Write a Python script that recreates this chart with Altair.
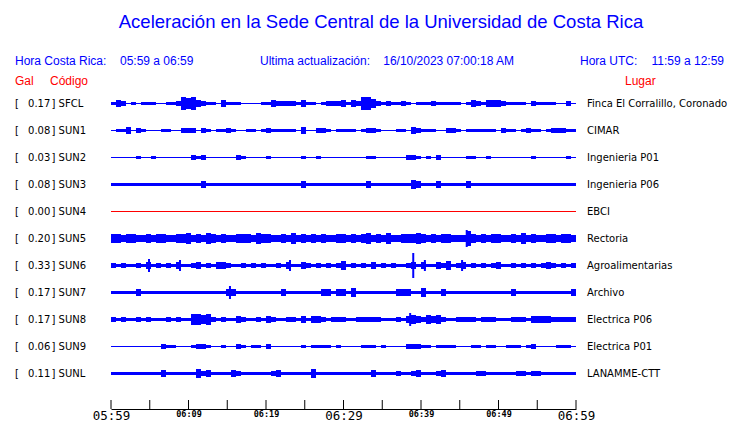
import altair as alt
import pandas as pd

# ---------------- data ----------------
CODES = ["SFCL", "SUN1", "SUN2", "SUN3", "SUN4", "SUN5", "SUN6", "SUN7", "SUN8", "SUN9", "SUNL"]
GAL = ["0.17", "0.08", "0.03", "0.08", "0.00", "0.20", "0.33", "0.17", "0.17", "0.06", "0.11"]
PLACES = ["Finca El Corralillo, Coronado", "CIMAR", "Ingenieria P01", "Ingenieria P06", "EBCI",
          "Rectoria", "Agroalimentarias", "Archivo", "Electrica P06", "Electrica P01", "LANAMME-CTT"]

# envelope half-heights (hex digit per ~39 s slot, 93 slots over the hour)
AMP_SFCL = "1320101110" "0112656321" "1031110000" "1132222131" "1012223132" "6642121121" "0111211111" "0132133321" "1110211110" "020"
AMP_SUN1 = "0113021000" "1100222021" "0112100110" "1211111030" "0221011110" "1221000110" "3211100221" "0111111021" "1012110122" "211"
AMP_SUN2 = "0000010010" "0000002120" "0000021000" "0100000010" "0100000000" "0110000002" "2101020000" "0110010000" "0000100000" "010"
AMP_SUN3 = "0000000000" "0000000030" "0000000000" "0000000030" "0000000000" "0300000000" "4300030000" "0300000000" "0000000000" "000"
AMP_SUN4 = "0000000000" "0000000000" "0000000000" "0000000000" "0000000000" "0000000000" "0000000000" "0000000000" "0000000000" "000"
AMP_SUN5 = "4434433434" "4334453435" "4343344435" "4433435343" "4343344343" "4534353344" "4543434433" "3743434433" "4353433443" "443"
AMP_SUN6 = "2121121312" "1213112312" "1332112121" "2112131132" "1212124121" "2131212112" "3131132412" "3121212311" "2121212321" "212"
AMP_SUN7 = "0000030000" "0000000000" "0003300000" "0000300000" "0033033040" "0000000333" "0040003000" "0000000000" "3000000000" "003"
AMP_SUN8 = "2121121211" "1212115545" "2121132112" "1321122131" "3321222112" "2222111213" "4324342112" "2221222111" "2221333322" "222"
AMP_SUN9 = "0000000000" "2110001221" "0010021011" "0200000010" "1111010000" "1110100002" "2211011110" "0011011001" "1101200001" "110"
AMP_SUNL = "0000000000" "3000000423" "0000320000" "0023000000" "4000000000" "0030000200" "2300023000" "0002200000" "0220220000" "000"
AMPS = [AMP_SFCL, AMP_SUN1, AMP_SUN2, AMP_SUN3, AMP_SUN4, AMP_SUN5,
        AMP_SUN6, AMP_SUN7, AMP_SUN8, AMP_SUN9, AMP_SUNL]

# narrow isolated spikes: station, minute after 05:59, half-height
SPIKE_CODE = ["SUN6", "SUN6", "SUN6", "SUN6", "SUN6", "SUN6", "SUN7", "SUN5", "SUN8", "SUN3"]
SPIKE_MIN = [4.9, 8.9, 23.1, 39.0, 40.5, 45.3, 15.35, 45.9, 38.6, 39.2]
SPIKE_AMP = [6, 5, 5, 12, 5, 5, 6, 8, 6, 4]

TIME_RANGE = [0, 60]
TICK_MIN = [0, 5, 10, 15, 20, 25, 30, 35, 40, 45, 50, 55, 60]
LABEL_MIN = [0, 10, 20, 30, 40, 50, 60]
TICK_LABELS = ["05:59", "06:09", "06:19", "06:29", "06:39", "06:49", "06:59"]

TITLE = "Aceleración en la Sede Central de la Universidad de Costa Rica"
HEADER = ["Hora Costa Rica:", "05:59 a 06:59", "Ultima actualización:", "16/10/2023 07:00:18 AM",
          "Hora UTC:", "11:59 a 12:59"]
COLHEAD = ["Gal", "Código", "Lugar"]

# ---------------- styles / layout ----------------
BLUE = "#0000ff"
RED = "#ff0000"
SP = 27
BASE_W = [1, 1, 1, 3, 1, 5, 3, 3, 3, 1, 3]
BASE_COL = [BLUE, BLUE, BLUE, BLUE, RED, BLUE, BLUE, BLUE, BLUE, BLUE, BLUE]
HEADER_X = [-96, 9, 149, 403, 469, 613]
HEADER_ALIGN = ["left", "left", "left", "right", "left", "right"]
COLHEAD_X = [-96, -61, 514]

W, H = 465, 321

xs = alt.Scale(domain=TIME_RANGE, nice=False, zero=False)
ys = alt.Scale(domain=[-15.5, 305.5], nice=False, zero=False, reverse=True)

label_expr = ""
for m, lab in zip(LABEL_MIN, TICK_LABELS):
    label_expr += f"datum.value == {m} ? '{lab}' : "
label_expr += "''"

AXIS = alt.Axis(values=LABEL_MIN, labelExpr=label_expr, ticks=False, grid=False,
                domainColor="black", domainWidth=1, labelColor="black",
                labelFont="DejaVu Sans Mono",
                labelFontSize={"condition": {"test": "datum.value % 30 == 0", "value": 12.5}, "value": 8.5},
                labelFontWeight={"condition": {"test": "datum.value % 30 == 0", "value": "normal"}, "value": "bold"},
                labelBaseline="top", labelPadding=0, labelFlush=False, labelOverlap=False)


def X(field):
    return alt.X(field, type="quantitative", scale=xs, axis=AXIS, title=None)


def Y(field):
    return alt.Y(field, type="quantitative", scale=ys, axis=None)


# station table
st = pd.DataFrame({"code": CODES, "gal": GAL, "place": PLACES,
                   "w": BASE_W, "col": BASE_COL})
st["yc"] = [k * SP for k in range(len(CODES))]
st["t_start"] = TIME_RANGE[0]
st["t_end"] = TIME_RANGE[1]
st["rb"] = "] " + st["code"]

# envelope blocks
rows = []
for k, s in enumerate(AMPS):
    n = len(s)
    for i, ch in enumerate(s):
        a = int(ch, 16)
        if a == 0:
            continue
        c = k * SP
        rows.append({"code": CODES[k],
                     "t0": (TIME_RANGE[1] - TIME_RANGE[0]) * i / n,
                     "t1": (TIME_RANGE[1] - TIME_RANGE[0]) * (i + 1) / n,
                     "lo": c - a - 0.5, "hi": c + a + 0.5})
env = pd.DataFrame(rows)

sp_rows = []
for code, m, a in zip(SPIKE_CODE, SPIKE_MIN, SPIKE_AMP):
    c = CODES.index(code) * SP
    sp_rows.append({"t": m, "lo": c - a - 0.5, "hi": c + a + 0.5})
spk = pd.DataFrame(sp_rows)

ticks = pd.DataFrame({"t": TICK_MIN})

base = alt.Chart(st).mark_rule().encode(
    x=X("t_start"), x2="t_end", y=Y("yc"),
    strokeWidth=alt.StrokeWidth("w:Q", scale=None),
    color=alt.Color("col:N", scale=None),
)

blocks = alt.Chart(env).mark_rect(color=BLUE).encode(
    x=X("t0"), x2="t1", y=Y("lo"), y2="hi")

spikes = alt.Chart(spk).mark_rule(color=BLUE, strokeWidth=2).encode(
    x=X("t"), y=Y("lo"), y2="hi")

tick_marks = alt.Chart(ticks).mark_rule(color="black", strokeWidth=1).encode(
    x=X("t"), y=alt.value(H), y2=alt.value(H - 9))

lab_font = dict(font="DejaVu Sans", fontSize=10, color="black", baseline="middle")
left_br = alt.Chart(st).mark_text(align="left", **lab_font).encode(
    x=alt.value(-96), y=Y("yc"), text=alt.value("["))
left_num = alt.Chart(st).mark_text(align="right", **lab_font).encode(
    x=alt.value(-60.7), y=Y("yc"), text="gal:N")
left_code = alt.Chart(st).mark_text(align="left", **lab_font).encode(
    x=alt.value(-59.5), y=Y("yc"), text="rb:N")
right_lab = alt.Chart(st).mark_text(align="left", **lab_font).encode(
    x=alt.value(476), y=Y("yc"), text="place:N")

one = pd.DataFrame({"d": [0]})
texts = [alt.Chart(one).mark_text(font="Liberation Sans", fontSize=18.5, color=BLUE,
                                  align="center", baseline="middle").encode(
    x=alt.value(270), y=alt.value(-66), text=alt.value(TITLE))]
for t, xv, al in zip(HEADER, HEADER_X, HEADER_ALIGN):
    texts.append(alt.Chart(one).mark_text(font="Liberation Sans", fontSize=12, color=BLUE,
                                          align=al, baseline="middle").encode(
        x=alt.value(xv), y=alt.value(-27), text=alt.value(t)))
for t, xv in zip(COLHEAD, COLHEAD_X):
    texts.append(alt.Chart(one).mark_text(font="Liberation Sans", fontSize=12, color=RED,
                                          align="left", baseline="middle").encode(
        x=alt.value(xv), y=alt.value(-7.5), text=alt.value(t)))

chart = alt.layer(base, blocks, spikes, tick_marks, left_br, left_num, left_code, right_lab, *texts).properties(
    width=W, height=H,
    autosize=alt.AutoSizeParams(type="none"),
    padding={"left": 103, "top": 80, "right": 156, "bottom": 15},
    background="white",
).configure_view(stroke=None)

chart.save("out.html", embed_options={"renderer": "svg", "actions": False})
